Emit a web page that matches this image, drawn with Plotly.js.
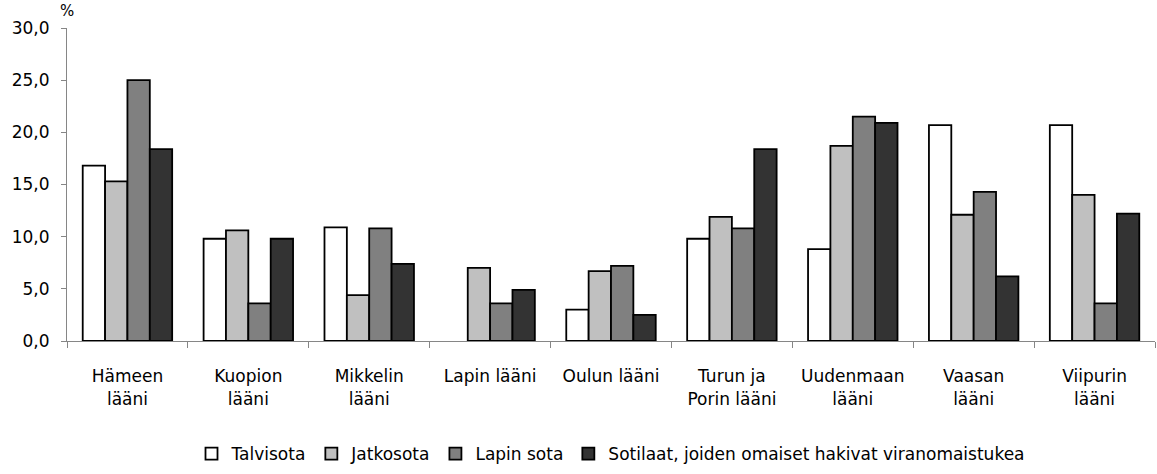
<!DOCTYPE html>
<html>
<head>
<meta charset="utf-8">
<script src="https://cdn.plot.ly/plotly-3.0.1.min.js"></script>
<style>html,body{margin:0;padding:0;background:#fff;}#chart{width:1157px;height:474px;}</style>
</head>
<body>
<div id="chart"></div>
<script>
const categories = ["Hämeen<br>lääni", "Kuopion<br>lääni", "Mikkelin<br>lääni", "Lapin lääni", "Oulun lääni", "Turun ja<br>Porin lääni", "Uudenmaan<br>lääni", "Vaasan<br>lääni", "Viipurin<br>lääni"];
const seriesNames = ["Talvisota", "Jatkosota", "Lapin sota", "Sotilaat, joiden omaiset hakivat viranomaistukea"];
const talvisota = [16.8, 9.8, 10.9, null, 3.0, 9.8, 8.8, 20.7, 20.7];
const jatkosota = [15.3, 10.6, 4.4, 7.0, 6.7, 11.9, 18.7, 12.1, 14.0];
const lapinSota = [25.0, 3.6, 10.8, 3.6, 7.2, 10.8, 21.5, 14.3, 3.6];
const sotilaat = [18.4, 9.8, 7.4, 4.9, 2.5, 18.4, 20.9, 6.2, 12.2];
const colors = ["#ffffff", "#c0c0c0", "#808080", "#333333"];

const values = [talvisota, jatkosota, lapinSota, sotilaat];
const font = "DejaVu Sans, sans-serif";
const traces = values.map((v, i) => ({
  type: "bar",
  name: seriesNames[i],
  x: categories,
  y: v,
  marker: {color: colors[i], line: {color: "#000000", width: 1.8}},
  hoverinfo: "skip"
}));

const layout = {
  width: 1157, height: 474,
  margin: {l: 67, r: 2, t: 28, b: 133},
  paper_bgcolor: "#ffffff", plot_bgcolor: "#ffffff",
  font: {family: font, size: 17, color: "#000000"},
  barmode: "group",
  bargap: 0.26,
  bargroupgap: 0,
  separators: ", ",
  showlegend: true,
  legend: {orientation: "h", x: 0.5, xanchor: "center", y: -0.4185, yanchor: "bottom",
           font: {family: font, size: 17}, itemwidth: 30, tracegroupgap: 0},
  xaxis: {
    type: "category",
    tickson: "boundaries",
    ticks: "outside", ticklen: 6, tickcolor: "#868686",
    showline: true, linecolor: "#868686", linewidth: 1,
    showgrid: false, zeroline: false,
    tickfont: {family: font, size: 17},
    ticklabelstandoff: 20,
    tickangle: 0
  },
  yaxis: {
    range: [0, 30], dtick: 5, tickformat: ".1f",
    ticks: "outside", ticklen: 5, tickcolor: "#868686",
    showline: true, linecolor: "#868686", linewidth: 1,
    showgrid: false, zeroline: false,
    tickfont: {family: font, size: 17},
    ticklabelstandoff: 8
  },
  annotations: [{
    text: "%", xref: "paper", yref: "paper", x: 0, y: 1, xanchor: "center", yanchor: "bottom",
    yshift: 6, showarrow: false, font: {family: font, size: 15}
  }]
};

Plotly.newPlot("chart", traces, layout, {staticPlot: true, displayModeBar: false});
</script>
</body>
</html>
